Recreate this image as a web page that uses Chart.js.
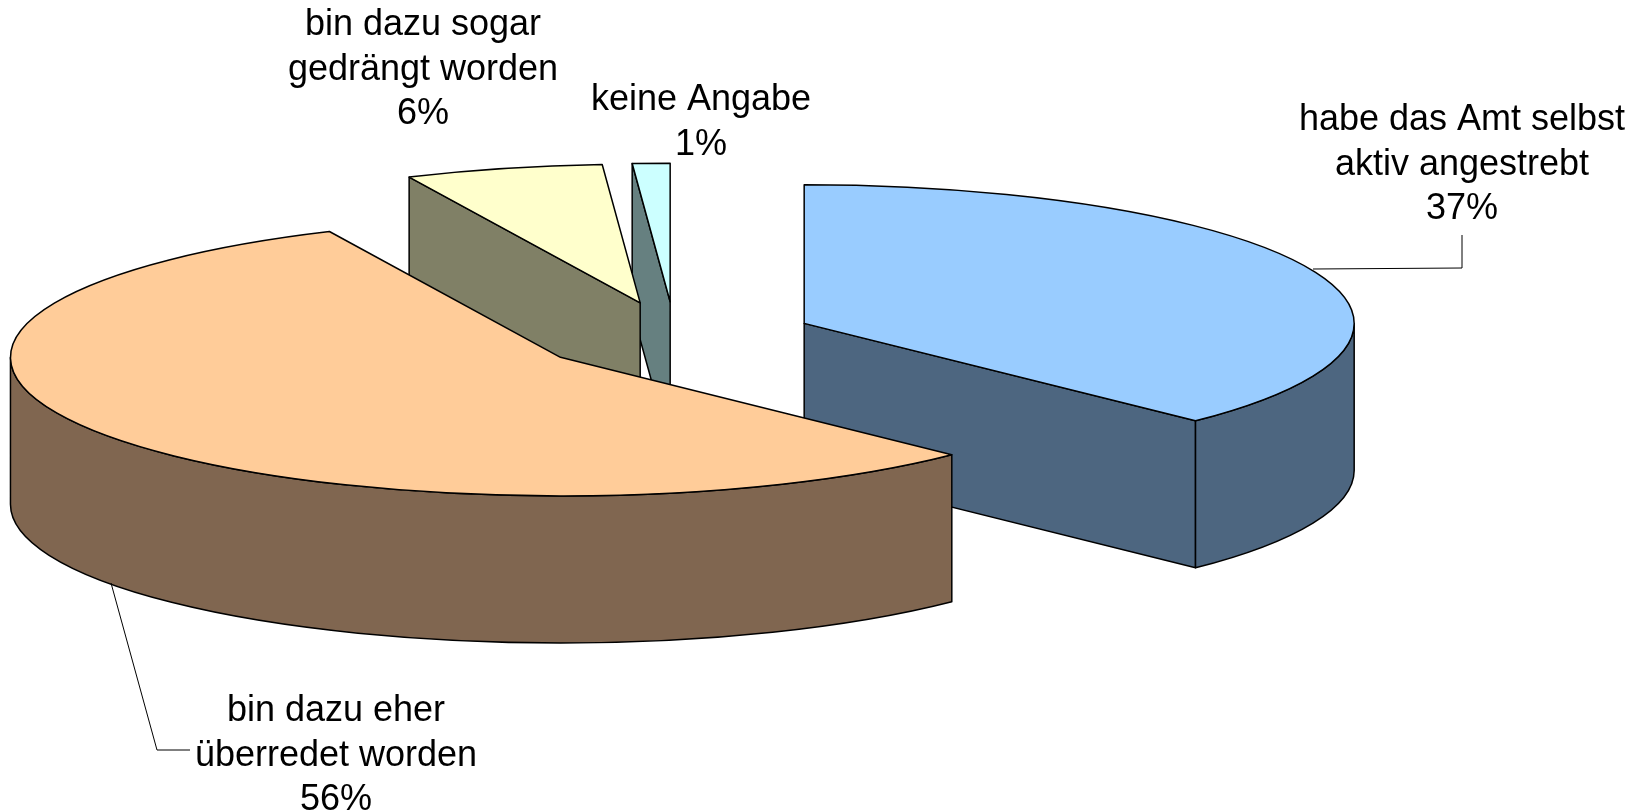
<!DOCTYPE html>
<html>
<head>
<meta charset="utf-8">
<title>Pie 3D</title>
<script src="https://cdn.jsdelivr.net/npm/chart.js@4/dist/chart.umd.js"></script>
<style>
    html, body { margin: 0; padding: 0; background: #fff; overflow: hidden; }
    #wrap { position: relative; width: 1646px; height: 812px; }
    #wrap canvas { display: block; }
</style>
</head>
<body>
<div id="wrap"><canvas id="amtChart"></canvas></div>
<script>
// Werte
const categories = [
    ['habe das Amt selbst', 'aktiv angestrebt'],
    ['bin dazu eher', 'überredet worden'],
    ['bin dazu sogar', 'gedrängt worden'],
    ['keine Angabe']
];
const shares = [37.4, 55.7, 5.8, 1.1];

const topColors = ['#99ccff', '#ffcc99', '#ffffcc', '#ccffff'];
const wallColors = ['#4d6680', '#806650', '#808066', '#668080'];

// hinten nach vorne
const paintOrder = [3, 2, 0, 1];

const tilt = 0.252;
const depth = 147;
const explode = 140;

// Beschriftung: Mitte x, Grundlinie der ersten Zeile, Zeilenabstand ist fix
const labelSpots = [
    { x: 1462, y: 130 },
    { x: 336, y: 721 },
    { x: 423, y: 35 },
    { x: 701, y: 110 }
];
const leaderLines = [
    [[1462, 235], [1462, 268], [1313, 269]],
    [[111, 583], [157, 750], [190, 750]]
];

function slicePath(ctx, cx, cy, r, a0, a1) {
    ctx.beginPath();
    ctx.moveTo(cx, cy);
    ctx.ellipse(cx, cy, r, r * tilt, 0, a0, a1);
    ctx.closePath();
}

function radialWall(ctx, cx, cy, r, a) {
    const ex = cx + Math.cos(a) * r;
    const ey = cy + Math.sin(a) * r * tilt;
    ctx.beginPath();
    ctx.moveTo(cx, cy);
    ctx.lineTo(ex, ey);
    ctx.lineTo(ex, ey + depth);
    ctx.lineTo(cx, cy + depth);
    ctx.closePath();
    ctx.fill();
    ctx.stroke();
}

const pie3d = {
    id: 'pie3d',
    beforeDatasetsDraw(chart) {
        const ctx = chart.ctx;
        const arcs = chart.getDatasetMeta(0).data;

        ctx.save();
        ctx.lineWidth = 1.5;
        ctx.strokeStyle = '#000';
        ctx.lineJoin = 'round';

        paintOrder.forEach((i) => {
            const arc = arcs[i];
            const a0 = arc.startAngle;
            const a1 = arc.endAngle;
            const r = arc.outerRadius;
            const mid = (a0 + a1) / 2;
            const cx = arc.x + Math.cos(mid) * explode;
            const cy = arc.y + Math.sin(mid) * explode * tilt;

            ctx.fillStyle = wallColors[i];
            if (Math.cos(a0) < -1e-6) radialWall(ctx, cx, cy, r, a0);
            if (Math.cos(a1) > 1e-6) radialWall(ctx, cx, cy, r, a1);

            // Aussenwand, nur der vordere Teil
            const lo = Math.max(a0, 0);
            const hi = Math.min(a1, Math.PI);
            if (hi > lo) {
                ctx.beginPath();
                ctx.ellipse(cx, cy, r, r * tilt, 0, lo, hi);
                ctx.ellipse(cx, cy + depth, r, r * tilt, 0, hi, lo, true);
                ctx.closePath();
                ctx.fill();
                ctx.stroke();
            }

            ctx.fillStyle = topColors[i];
            slicePath(ctx, cx, cy, r, a0, a1);
            ctx.fill();
            ctx.stroke();
        });
        ctx.restore();
        return false; // Standard-Kreis nicht zeichnen
    },
    afterDraw(chart) {
        const ctx = chart.ctx;
        ctx.save();
        ctx.strokeStyle = '#000';
        ctx.lineWidth = 1;
        leaderLines.forEach((pts) => {
            ctx.beginPath();
            pts.forEach((p, n) => n ? ctx.lineTo(p[0], p[1]) : ctx.moveTo(p[0], p[1]));
            ctx.stroke();
        });

        ctx.fillStyle = '#000';
        ctx.textAlign = 'center';
        ctx.textBaseline = 'alphabetic';
        ctx.font = '36px "Liberation Sans", Arial, sans-serif';
        categories.forEach((lines, i) => {
            const rows = lines.concat(Math.round(shares[i]) + '%');
            rows.forEach((txt, n) => {
                ctx.fillText(txt, labelSpots[i].x, labelSpots[i].y + n * 44.5);
            });
        });
        ctx.restore();
    }
};

const chart = new Chart(document.getElementById('amtChart'), {
    type: 'pie',
    data: {
        labels: categories.map((c) => c.join(' ')),
        datasets: [{
            data: shares,
            backgroundColor: topColors,
            radius: 550,
            clip: false
        }]
    },
    options: {
        responsive: true,
        maintainAspectRatio: false,
        animation: false,
        layout: { padding: { right: 296, bottom: 138 } },
        plugins: {
            legend: { display: false },
            tooltip: { enabled: false }
        }
    },
    plugins: [pie3d]
});
</script>
</body>
</html>
